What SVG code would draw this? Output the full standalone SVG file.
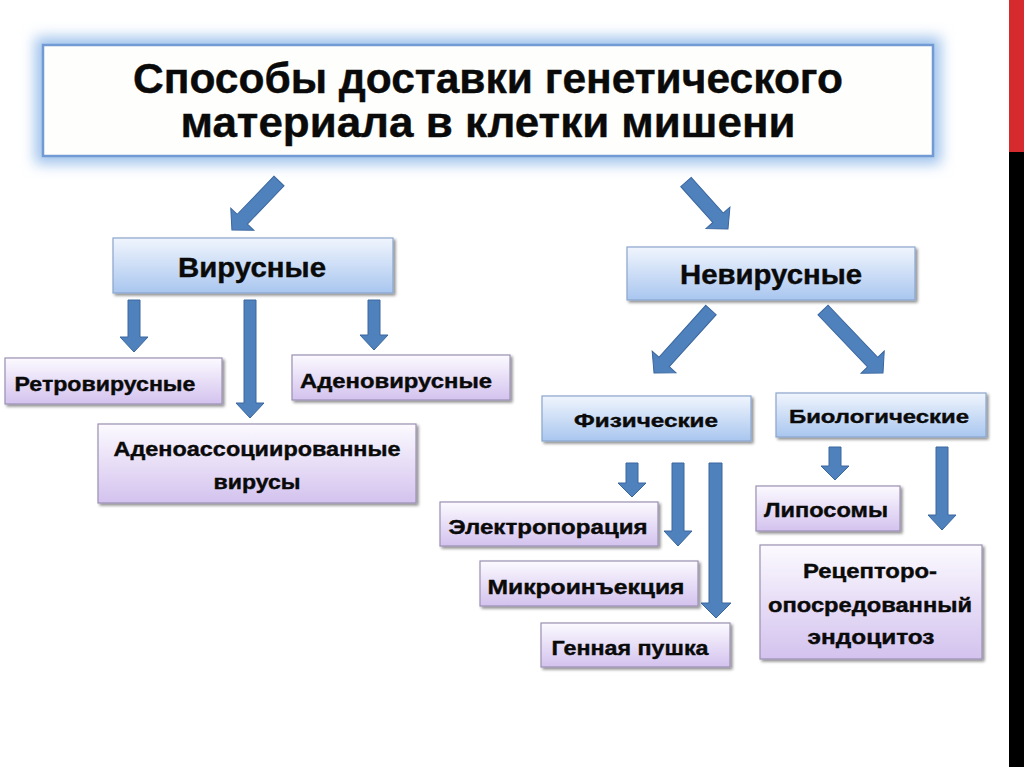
<svg xmlns="http://www.w3.org/2000/svg" width="1024" height="767" viewBox="0 0 1024 767">
<defs>
<linearGradient id="gBlue" x1="0" y1="0" x2="0" y2="1">
<stop offset="0" stop-color="#f0f5fd"/>
<stop offset="1" stop-color="#a9c6ef"/>
</linearGradient>
<linearGradient id="gPurple" x1="0" y1="0" x2="0" y2="1">
<stop offset="0" stop-color="#fcfaff"/>
<stop offset="1" stop-color="#d3c2ee"/>
</linearGradient>
<filter id="shadow" x="-10%" y="-20%" width="130%" height="150%">
<feGaussianBlur in="SourceAlpha" stdDeviation="1.5"/>
<feOffset dx="1.5" dy="2" result="b"/>
<feComponentTransfer><feFuncA type="linear" slope="0.45"/></feComponentTransfer>
<feMerge><feMergeNode/><feMergeNode in="SourceGraphic"/></feMerge>
</filter>
<filter id="glow" x="-10%" y="-30%" width="120%" height="160%">
<feGaussianBlur stdDeviation="7"/>
</filter>
<style>
.blue{fill:url(#gBlue);stroke:#8ba6cc;stroke-width:1.2}
.purple{fill:url(#gPurple);stroke:#9b90b3;stroke-width:1.2}
.t{font-family:"Liberation Sans","DejaVu Sans",sans-serif;font-weight:bold;fill:#0a0a0a;text-anchor:middle;stroke:#0a0a0a;stroke-width:0.4}
.arr{fill:#4f81bd;stroke:#3a679e;stroke-width:1}
</style>
</defs>
<rect width="1024" height="767" fill="#ffffff"/>
<rect x="1009" y="0" width="15" height="152" fill="#d62b2e"/>
<rect x="1009" y="152" width="15" height="615" fill="#000000"/>

<g id="title">
<rect x="35" y="37" width="906" height="127" fill="#9fc2ec" filter="url(#glow)"/>
<rect x="43" y="45" width="890" height="111" fill="#fefefc" stroke="#729bd3" stroke-width="2.5"/>
<text class="t" x="488" y="93" font-size="42" textLength="710" lengthAdjust="spacingAndGlyphs">Способы доставки генетического</text>
<text class="t" x="488" y="137" font-size="42" textLength="615" lengthAdjust="spacingAndGlyphs">материала в клетки мишени</text>
</g>

<g id="viral">
<rect class="blue" x="113" y="238" width="280" height="55" filter="url(#shadow)"/>
<text class="t" x="252" y="277" font-size="27" textLength="148" lengthAdjust="spacingAndGlyphs">Вирусные</text>
</g>
<g id="nonviral">
<rect class="blue" x="627" y="247" width="288" height="53" filter="url(#shadow)"/>
<text class="t" x="771" y="284" font-size="27" textLength="182" lengthAdjust="spacingAndGlyphs">Невирусные</text>
</g>
<g id="retro">
<rect class="purple" x="5" y="358" width="217" height="46" filter="url(#shadow)"/>
<text class="t" x="105" y="391" font-size="21" textLength="181" lengthAdjust="spacingAndGlyphs">Ретровирусные</text>
</g>
<g id="adeno">
<rect class="purple" x="292" y="355" width="218" height="45" filter="url(#shadow)"/>
<text class="t" x="396" y="388" font-size="21" textLength="192" lengthAdjust="spacingAndGlyphs">Аденовирусные</text>
</g>
<g id="aav">
<rect class="purple" x="98" y="424" width="318" height="79" filter="url(#shadow)"/>
<text class="t" x="257" y="456" font-size="21" textLength="287" lengthAdjust="spacingAndGlyphs">Аденоассоциированные</text>
<text class="t" x="257" y="489" font-size="21" textLength="87" lengthAdjust="spacingAndGlyphs">вирусы</text>
</g>
<g id="physical">
<rect class="blue" x="542" y="396" width="209" height="45" filter="url(#shadow)"/>
<text class="t" x="646" y="427" font-size="19" textLength="144" lengthAdjust="spacingAndGlyphs">Физические</text>
</g>
<g id="biological">
<rect class="blue" x="776" y="393" width="210" height="44" filter="url(#shadow)"/>
<text class="t" x="879" y="423" font-size="19" textLength="180" lengthAdjust="spacingAndGlyphs">Биологические</text>
</g>
<g id="electroporation">
<rect class="purple" x="440" y="502" width="218" height="44" filter="url(#shadow)"/>
<text class="t" x="548" y="534" font-size="21" textLength="199" lengthAdjust="spacingAndGlyphs">Электропорация</text>
</g>
<g id="microinjection">
<rect class="purple" x="480" y="561" width="218" height="45" filter="url(#shadow)"/>
<text class="t" x="586" y="594" font-size="21" textLength="197" lengthAdjust="spacingAndGlyphs">Микроинъекция</text>
</g>
<g id="genegun">
<rect class="purple" x="541" y="623" width="189" height="44" filter="url(#shadow)"/>
<text class="t" x="630" y="655" font-size="21" textLength="157" lengthAdjust="spacingAndGlyphs">Генная пушка</text>
</g>
<g id="liposomes">
<rect class="purple" x="756" y="486" width="144" height="45" filter="url(#shadow)"/>
<text class="t" x="826" y="517" font-size="21" textLength="124" lengthAdjust="spacingAndGlyphs">Липосомы</text>
</g>
<g id="receptor">
<rect class="purple" x="760" y="545" width="222" height="114" filter="url(#shadow)"/>
<text class="t" x="870" y="578" font-size="21" textLength="134" lengthAdjust="spacingAndGlyphs">Рецепторо-</text>
<text class="t" x="870" y="612" font-size="21" textLength="204" lengthAdjust="spacingAndGlyphs">опосредованный</text>
<text class="t" x="871" y="644" font-size="21" textLength="127" lengthAdjust="spacingAndGlyphs">эндоцитоз</text>
</g>

<g id="connectors">
<path class="arr" transform="translate(279,181) rotate(43.8)" d="M-7 0 H7 V53 H16 L0 68 L-16 53 H-7 Z"/>
<path class="arr" transform="translate(686,182) rotate(-41.8)" d="M-7 0 H7 V48 H16 L0 63 L-16 48 H-7 Z"/>
<path class="arr" transform="translate(711,310) rotate(42.1)" d="M-7 0 H7 V70 H16 L0 85 L-16 70 H-7 Z"/>
<path class="arr" transform="translate(823,310) rotate(-43.6)" d="M-7 0 H7 V72 H16 L0 87 L-16 72 H-7 Z"/>
<path class="arr" d="M128 300 H140 V337 H148 L134 352 L120 337 H128 Z"/>
<path class="arr" d="M244 300 H256 V403 H264 L250 418 L236 403 H244 Z"/>
<path class="arr" d="M368 300 H380 V335 H388 L374 350 L360 335 H368 Z"/>
<path class="arr" d="M626 463 H638 V483 H646 L632 497 L618 483 H626 Z"/>
<path class="arr" d="M672 463 H684 V531 H692 L678 546 L664 531 H672 Z"/>
<path class="arr" d="M709 463 H722 V603 H731 L716 618 L701 603 H709 Z"/>
<path class="arr" d="M829 447 H841 V466 H849 L835 480 L821 466 H829 Z"/>
<path class="arr" d="M936 447 H948 V515 H956 L942 530 L928 515 H936 Z"/>
</g>
</svg>
